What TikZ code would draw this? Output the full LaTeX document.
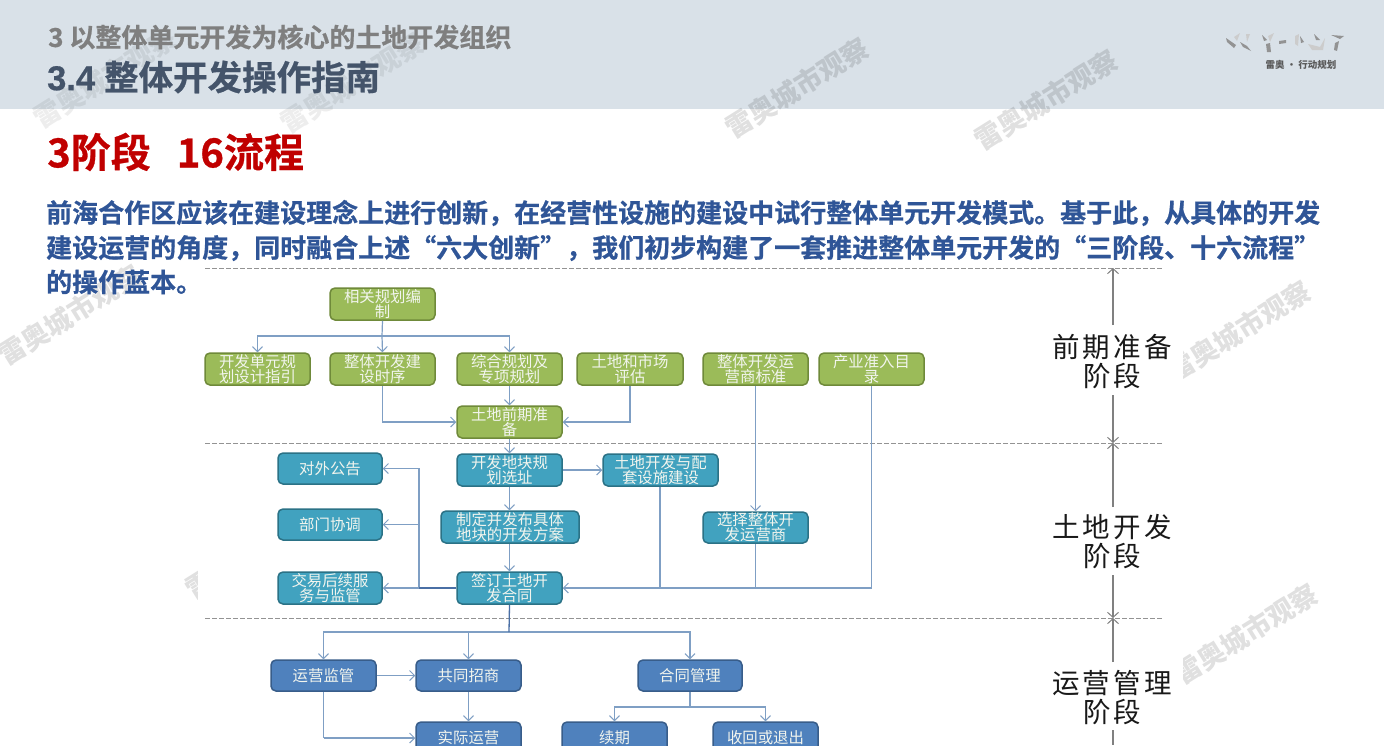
\documentclass[tikz,border=0pt]{standalone}
\usepackage{fontspec}
\usetikzlibrary{arrows.meta,calc}
\setmainfont{Noto Sans CJK SC}
\newfontfamily\labfont[LetterSpace=11]{Noto Sans CJK SC}
\newfontfamily\hvy[FakeBold=0.7]{Noto Sans CJK SC Bold}
\newfontfamily\hvylat[FakeBold=0.5]{Liberation Sans Bold}
\definecolor{hdr}{HTML}{D9E1E8}
\definecolor{hgray}{HTML}{7F7F7F}
\definecolor{hblue}{HTML}{44546A}
\definecolor{tred}{HTML}{C00000}
\definecolor{bodyb}{HTML}{2F5597}
\definecolor{gfill}{HTML}{9BBB59}
\definecolor{gline}{HTML}{6F8A3A}
\definecolor{tfill}{HTML}{41A2BF}
\definecolor{tline}{HTML}{2B7286}
\definecolor{bfill}{HTML}{4F81BD}
\definecolor{bline}{HTML}{385D8A}
\definecolor{conn}{HTML}{7F9FC4}
\definecolor{connd}{HTML}{4A6FA5}
\definecolor{boxtxt}{HTML}{F2F5EE}
\tikzset{
  x=1pt,y=-1pt,
  box/.style={rounded corners=5pt,line width=1.5pt,inner sep=0pt,align=center,text=boxtxt,
     font=\fontsize{15.4}{15}\selectfont},
  gbox/.style={box,fill=gfill,draw=gline},
  tbox/.style={box,fill=tfill,draw=tline},
  bbox/.style={box,fill=bfill,draw=bline},
  link/.style={draw=conn,line width=1.2pt,-{Straight Barb[length=5pt,width=10pt,line width=1pt]}},
  plain/.style={draw=conn,line width=1.2pt},
  darkline/.style={draw=connd,line width=1.3pt},
  sep/.style={draw=gray!85,line width=.9pt,dash pattern=on 5pt off 2pt},
  stage/.style={draw=gray,line width=1.1pt},
  stagearrow/.style={stage,-{Straight Barb[length=5pt,width=11pt,line width=1pt]}},
  stagelabel/.style={align=center,inner sep=0pt,text=black!90,font=\labfont\fontsize{27.5}{29}\selectfont},
  wm/.style={rotate=32,text=black,text opacity=.12,inner sep=0pt,font=\fontsize{27}{27}\selectfont\bfseries},
  wmh/.style={wm,text opacity=.07},
  shard/.style={fill=gray!85,draw=none},
  shardl/.style={fill=gray!40,draw=none}
}
\newcommand{\bx}[7]{\node[#6,minimum width={(#4)-(#2)},minimum height={(#5)-(#3)}] (#1) at ({((#2)+(#4))/2},{((#3)+(#5))/2}) {#7};}
\begin{document}
\begin{tikzpicture}
\useasboundingbox (0,0) rectangle (1384,745);
\fill[white] (0,0) rectangle (1384,745);
\fill[hdr] (0,0) rectangle (1384,109);
% watermarks
\node[wmh] (w1) at (105,78) {雷奥城市观察};
\node[wmh] (w2) at (352,83) {雷奥城市观察};
\node[wm] (w3) at (797,88) {雷奥城市观察};
\node[wm] (w4) at (1046,100) {雷奥城市观察};
\node[wm] (w5) at (70,315) {雷奥城市观察};
\node[wm] (w6) at (257,549) {雷奥城市观察};
\node[wm] (w7) at (1239,331) {雷奥城市观察};
\node[wm] (w8) at (1246,634) {雷奥城市观察};
\fill[white] (198,263) rectangle (1183,745);
% titles
\node[anchor=west,inner sep=0pt,text=hgray,font=\hvy\fontsize{26}{26}\selectfont] (t1) at (48,37) {3 以整体单元开发为核心的土地开发组织};
\node[anchor=west,inner sep=0pt,text=hblue,font=\hvy\fontsize{34.5}{34.5}\selectfont] (t2) at (47,77) {{\hvylat 3.4}\hspace{9pt}整体开发操作指南};
\node[anchor=west,inner sep=0pt,text=tred,font=\hvy\fontsize{40}{40}\selectfont] (t3) at (47,152) {3阶段\hspace{26pt}16流程};
\node[anchor=west,inner sep=0pt,text=bodyb,font=\hvy\fontsize{26}{26}\selectfont] (p1) at (46,213) {前海合作区应该在建设理念上进行创新，在经营性设施的建设中试行整体单元开发模式。基于此，从具体的开发};
\node[anchor=west,inner sep=0pt,text=bodyb,font=\hvy\fontsize{26}{26}\selectfont] (p2) at (46,248) {建设运营的角度，同时融合上述“六大创新”，我们初步构建了一套推进整体单元开发的“三阶段、十六流程”};
\node[anchor=west,inner sep=0pt,text=bodyb,font=\hvy\fontsize{26}{26}\selectfont] (p3) at (46,282) {的操作蓝本。};
% logo
\fill[shard] (1226,38)--(1236,45)--(1234,48)--(1227,42)--cycle;
\fill[shardl] (1234,37)--(1240,33)--(1237,41)--cycle;
\fill[shard] (1240,42)--(1247,46)--(1251,51)--(1243,47)--cycle;
\fill[shardl] (1246,34)--(1250,34)--(1247,42)--cycle;
\fill[shard] (1262,35)--(1267,40)--(1264,41)--cycle;
\fill[shardl] (1268,36)--(1274,33)--(1270,42)--cycle;
\fill[shard] (1266,44)--(1270,43)--(1271,52)--(1267,52)--cycle;
\fill[shard] (1279,41)--(1286,40)--(1286,43)--(1279,44)--cycle;
\fill[shardl] (1295,36)--(1299,34)--(1298,46)--(1295,44)--cycle;
\fill[shard] (1300,36)--(1304,42)--(1301,43)--cycle;
\fill[shardl] (1308,44)--(1320,47)--(1325,38)--(1323,50)--(1312,50)--cycle;
\fill[shard] (1314,34)--(1320,40)--(1316,40)--cycle;
\fill[shard] (1331,35)--(1344,36)--(1340,39)--cycle;
\fill[shard] (1335,43)--(1339,41)--(1337,51)--(1334,50)--cycle;
\node[inner sep=0pt,text=black!65,font=\fontsize{9.5}{9.5}\selectfont\bfseries] (logo) at (1301,64.5) {雷奥 · 行动规划};
% separators
\coordinate (sa) at (205,268); \coordinate (sb) at (1163,268);
\coordinate (sc) at (205,443); \coordinate (sd) at (1163,443);
\coordinate (se) at (205,618); \coordinate (sf) at (1163,618);
\draw[sep] (sa)--(sb); \draw[sep] (sc)--(sd); \draw[sep] (se)--(sf);
% green boxes
\bx{g1}{330}{288}{435}{320}{gbox}{相关规划编\\制}
\bx{g2}{205}{353}{310}{385}{gbox}{开发单元规\\划设计指引}
\bx{g3}{330}{353}{435}{385}{gbox}{整体开发建\\设时序}
\bx{g4}{457}{353}{562}{385}{gbox}{综合规划及\\专项规划}
\bx{g5}{577}{353}{683}{385}{gbox}{土地和市场\\评估}
\bx{g6}{703}{353}{808}{385}{gbox}{整体开发运\\营商标准}
\bx{g7}{819}{353}{924}{385}{gbox}{产业准入目\\录}
\bx{g8}{457}{406}{562}{438}{gbox}{土地前期准\\备}
% teal boxes
\bx{t1b}{278}{453}{382}{484}{tbox}{对外公告}
\bx{t2b}{457}{454}{562}{486}{tbox}{开发地块规\\划选址}
\bx{t3b}{603}{454}{718}{486}{tbox}{土地开发与配\\套设施建设}
\bx{t4b}{278}{509}{382}{540}{tbox}{部门协调}
\bx{t5b}{441}{511}{579}{543}{tbox}{制定并发布具体\\地块的开发方案}
\bx{t6b}{703}{512}{808}{543}{tbox}{选择整体开\\发运营商}
\bx{t7b}{278}{572}{382}{604}{tbox}{交易后续服\\务与监管}
\bx{t8b}{457}{572}{562}{604}{tbox}{签订土地开\\发合同}
% blue boxes
\bx{b1}{271}{660}{376}{691}{bbox}{运营监管}
\bx{b2}{416}{660}{521}{691}{bbox}{共同招商}
\bx{b3}{638}{660}{742}{691}{bbox}{合同管理}
\bx{b4}{416}{722}{521}{753}{bbox}{实际运营}
\bx{b5}{562}{722}{667}{753}{bbox}{续期}
\bx{b6}{713}{722}{818}{753}{bbox}{收回或退出}
% green connectors
\coordinate (j1) at (382,336);
\draw[plain] (g1.south)--(j1);
\draw[link] (j1)-|(g2.north);
\draw[link] (j1)--(g3.north);
\draw[link] (j1)-|(g4.north);
\draw[link] (g3.south)|-(g8.west);
\draw[link] (g4.south)--(g8.north);
\draw[link] (g5.south)|-(g8.east);
\draw[link] (g8.south)--(t2b.north);
% teal connectors
\draw[link] (t2b.east)--(t3b.west);
\draw[link] (t2b.south)--(t5b.north-|t2b.south);
\draw[link] (t5b.south-|t8b.north)--(t8b.north);
\draw[link] (t8b.west)--(t7b.east);
\coordinate (j2) at (419,588);
\draw[link] (j2)|-(t1b.east);
\draw[link] (j2|-t4b.east)--(t4b.east);
\draw[link] (g6.south)--(t6b.north);
\draw[link] (g7.south)|-(t8b.east);
\draw[plain] (t3b.south-|660,0)--(660,588);
\draw[plain] (t6b.south)--(t6b.south|-t8b.east);
\draw[darkline] (t8b.west)--(j2);
% blue connectors
\coordinate (j3) at (509,632);
\draw[link] (j3)-|(b1.north);
\draw[link] (j3)-|(b2.north);
\draw[link] (j3)-|(b3.north);
\draw[darkline] (t8b.south)--(j3);
\draw[link] (b1.east)--(b2.west);
\draw[link] (b2.south)--(b4.north);
\coordinate (j4) at (323.5,738);
\draw[plain] (b1.south)--(j4);
\draw[link] (j4)--(j4-|b4.west);
\coordinate (j5) at (690,707);
\draw[plain] (b3.south)--(j5);
\draw[link] (j5)-|(b5.north);
\draw[link] (j5)-|(b6.north);
% stage labels
\node[stagelabel] (l1) at (1112,362) {前期准备\\阶段};
\node[stagelabel] (l2) at (1112,542) {土地开发\\阶段};
\node[stagelabel] (l3) at (1112,698) {运营管理\\阶段};
\coordinate (a0) at (1113,268); \coordinate (a1) at (1113,443); \coordinate (a2) at (1113,618); \coordinate (a3) at (1113,745);
\draw[stagearrow] (1113,325)--(a0);
\draw[stagearrow] (1113,395)--(a1);
\draw[stagearrow] (1113,507)--(a1);
\draw[stagearrow] (1113,575)--(a2);
\draw[stagearrow] (1113,662)--(a2);
\draw[stage] (1113,730)--(a3);
\end{tikzpicture}
\end{document}
